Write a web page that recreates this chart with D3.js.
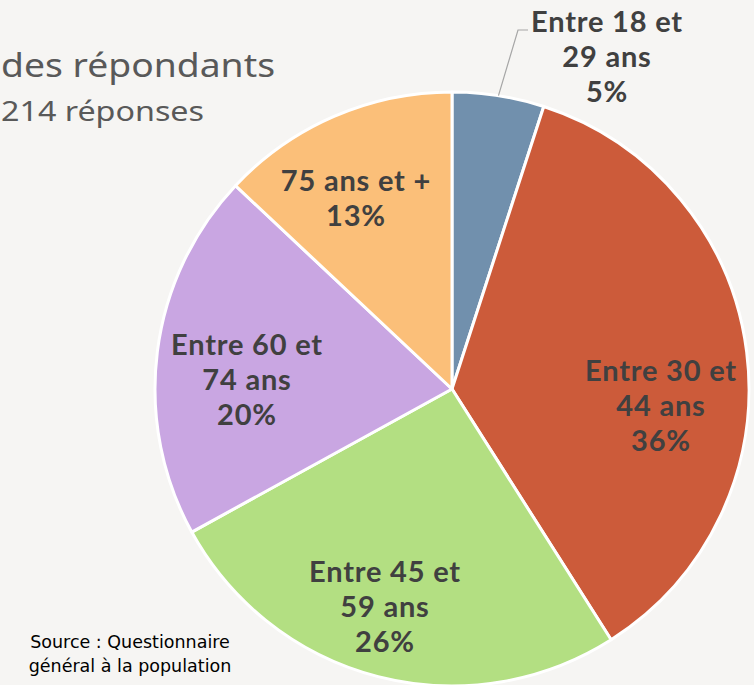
<!doctype html>
<html lang="fr">
<head>
<meta charset="utf-8">
<title>Âge des répondants</title>
<script src="https://d3js.org/d3.v7.min.js"></script>
<style>
  body { margin: 0; background: #f6f5f3; }
  svg { display: block; }
</style>
</head>
<body>
<svg id="chart" width="754" height="685"></svg>
<script>
// slices, clockwise from 12 o'clock
var categories = ["Entre 18 et 29 ans", "Entre 30 et 44 ans", "Entre 45 et 59 ans", "Entre 60 et 74 ans", "75 ans et +"];
var values = [5, 36, 26, 20, 13];
var labelLines = [
  ["Entre 18 et", "29 ans", "5%"],
  ["Entre 30 et", "44 ans", "36%"],
  ["Entre 45 et", "59 ans", "26%"],
  ["Entre 60 et", "74 ans", "20%"],
  ["75 ans et +", "13%"]
];
var colors = ["#7190ad", "#cc5b3a", "#b3df82", "#c9a6e2", "#fbbf79"];

var svg = d3.select("#chart"),
    cx = 452, cy = 389, r = 297;

svg.append("rect").attr("width", 754).attr("height", 685).attr("fill", "#f6f5f3");

var pie = d3.pie().sort(null).value(function(d) { return d; });
var arcs = pie(values);
var arc = d3.arc().innerRadius(0).outerRadius(r);

var g = svg.append("g").attr("transform", "translate(" + cx + "," + cy + ")");

g.selectAll("path")
  .data(arcs)
  .enter().append("path")
  .attr("d", arc)
  .attr("fill", function(d, i) { return colors[i]; })
  .attr("stroke", "#fff")
  .attr("stroke-width", 3)
  .attr("stroke-linejoin", "round");

// label centres (relative to pie centre)
var labelPos = [[155, -332], [209, 17], [-67, 218], [-205, -9], [-96, -191]];

// leader for the small slice
var mid = (arcs[0].startAngle + arcs[0].endAngle) / 2;
var px = Math.sin(mid) * r, py = -Math.cos(mid) * r;
g.append("polyline")
  .attr("points", [[px, py], [66, -359], [76, -359]].map(function(p) { return p.join(","); }).join(" "))
  .attr("fill", "none")
  .attr("stroke", "#a6a6a6")
  .attr("stroke-width", 1.2);

var lineH = 35;
labelLines.forEach(function(lines, i) {
  var t = g.append("text")
    .attr("text-anchor", "middle")
    .attr("font-family", "Lato, 'Open Sans', sans-serif")
    .attr("font-weight", "bold")
    .attr("font-size", 29)
    .attr("letter-spacing", 0.8)
    .attr("fill", "#404040");
  var y0 = labelPos[i][1] - (lines.length - 1) * lineH / 2;
  lines.forEach(function(s, k) {
    t.append("tspan")
      .attr("x", labelPos[i][0])
      .attr("y", y0 + k * lineH)
      .attr("dy", "0.35em")
      .text(s);
  });
});

// title (left part is off the picture in the original)
svg.append("text")
  .attr("x", 1).attr("y", 77)
  .attr("font-family", "'Noto Sans', sans-serif")
  .attr("font-size", 32)
  .attr("textLength", 274)
  .attr("lengthAdjust", "spacingAndGlyphs")
  .attr("fill", "#595959")
  .text("des répondants");
svg.append("text")
  .attr("x", 1).attr("y", 121)
  .attr("font-family", "'Noto Sans', sans-serif")
  .attr("font-size", 28)
  .attr("textLength", 203)
  .attr("lengthAdjust", "spacingAndGlyphs")
  .attr("fill", "#595959")
  .text("214 réponses");

// source
var src = svg.append("text")
  .attr("text-anchor", "middle")
  .attr("font-family", "'DejaVu Sans', sans-serif")
  .attr("font-size", 17.5)
  .attr("fill", "#000");
src.append("tspan").attr("x", 130).attr("y", 648).text("Source : Questionnaire");
src.append("tspan").attr("x", 130).attr("y", 672).text("général à la population");
</script>
</body>
</html>
